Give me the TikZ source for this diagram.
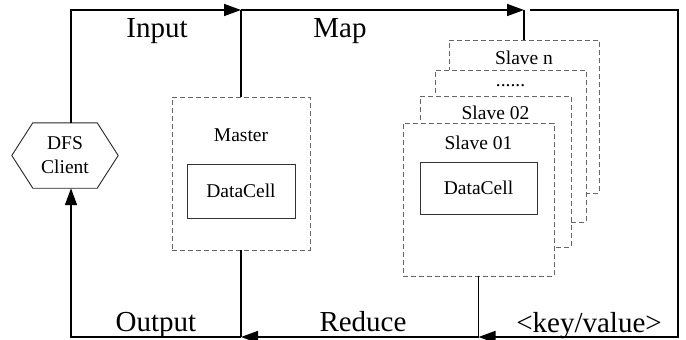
\documentclass[tikz,border=0pt]{standalone}
\usepackage{fontspec}
\setmainfont{Liberation Serif}
\usetikzlibrary{arrows.meta,calc}

\tikzset{
  flow/.style={line width=1.6pt, draw=black, line join=miter},
  flowarrow/.style={flow, -{Triangle[length=17pt,width=12pt]}},
  unit/.style={draw=black!60, dash pattern=on 5pt off 3pt, line width=0.9pt,
               fill=white, inner sep=0pt},
  cell/.style={draw=black!80, line width=0.9pt, fill=white,
               font=\fontsize{19.5}{22}\selectfont, inner sep=0pt},
  small/.style={font=\fontsize{19.5}{22}\selectfont, inner sep=0pt},
  big/.style={font=\fontsize{29}{32}\selectfont, inner sep=0pt, anchor=base},
}

\begin{document}
\begin{tikzpicture}[x=1pt, y=-1pt]
\useasboundingbox (0,0) rectangle (686,340);

% corners of the outer loop
\coordinate (tl) at (71,10);
\coordinate (tr) at (678,10);
\coordinate (bl) at (71,337);
\coordinate (br) at (678,337);

% DFS client (hexagon drawn around a plain node)
\node[small, minimum width=106pt, minimum height=65pt, align=center,
      text depth=0pt] (client) at (65,155.5) {DFS\\[2pt]Client};
\draw[line width=0.9pt, black!85]
  (client.west) -- ([xshift=21pt]client.north west) -- ([xshift=-21pt]client.north east)
  -- (client.east) -- ([xshift=-21pt]client.south east) -- ([xshift=21pt]client.south west)
  -- cycle;

% Master
\node[unit, minimum width=138pt, minimum height=153pt] (master) at (241,173.5) {};
\node[small] (mastertxt) at (241,135) {Master};
\node[cell, minimum width=108pt, minimum height=54pt] (mcell) at (241,191) {DataCell};

% slaves, back to front
\node[unit, minimum width=150pt, minimum height=153pt] (slaven) at (524,116.5) {};
\node[small] (slaventxt) at (524,58) {Slave n};
\node[unit, minimum width=151pt, minimum height=152pt] (slavedots) at (510.5,146) {};
\node[small, anchor=base] (dotstxt) at (510.5,86) {......};
\node[unit, minimum width=151pt, minimum height=151pt] (slave2) at (495.5,171.5) {};
\node[small] (slave2txt) at (495.5,113) {Slave 02};
\node[unit, minimum width=151pt, minimum height=153pt] (slave1) at (478.5,199.5) {};
\node[small] (slave1txt) at (478.5,143) {Slave 01};
\node[cell, minimum width=117pt, minimum height=52pt] (scell) at (478.5,188) {DataCell};

% stage labels
\node[big] (input)  at (157,37)  {Input};
\node[big] (map)    at (340,37)  {Map};
\node[big] (output) at (156,331) {Output};
\node[big] (reduce) at (363,331) {Reduce};
\node[big] (kv)     at (589,332) {<key/value>};

% data flow
\draw[flowarrow] ([xshift=6pt]client.north) |- (master.north |- tl);
\draw[flow] (master.north |- tl) -- (master.north);
\draw[flowarrow] (master.north |- tl) -- (slaven.north |- tl);
\draw[flow] (slaven.north |- tl) -- (slaven.north);
\draw[flowarrow] ([xshift=6pt]slaven.north |- tl) -- (tr) -- (br) -- (slave1.south |- br);
\draw[flow] (slave1.south) -- (slave1.south |- br);
\draw[flowarrow] (slave1.south |- br) -- (master.south |- br);
\draw[flow] (master.south) -- (master.south |- br);
\draw[flowarrow] (master.south |- br) -- (bl) -- ([xshift=6pt]client.south);
\end{tikzpicture}
\end{document}
